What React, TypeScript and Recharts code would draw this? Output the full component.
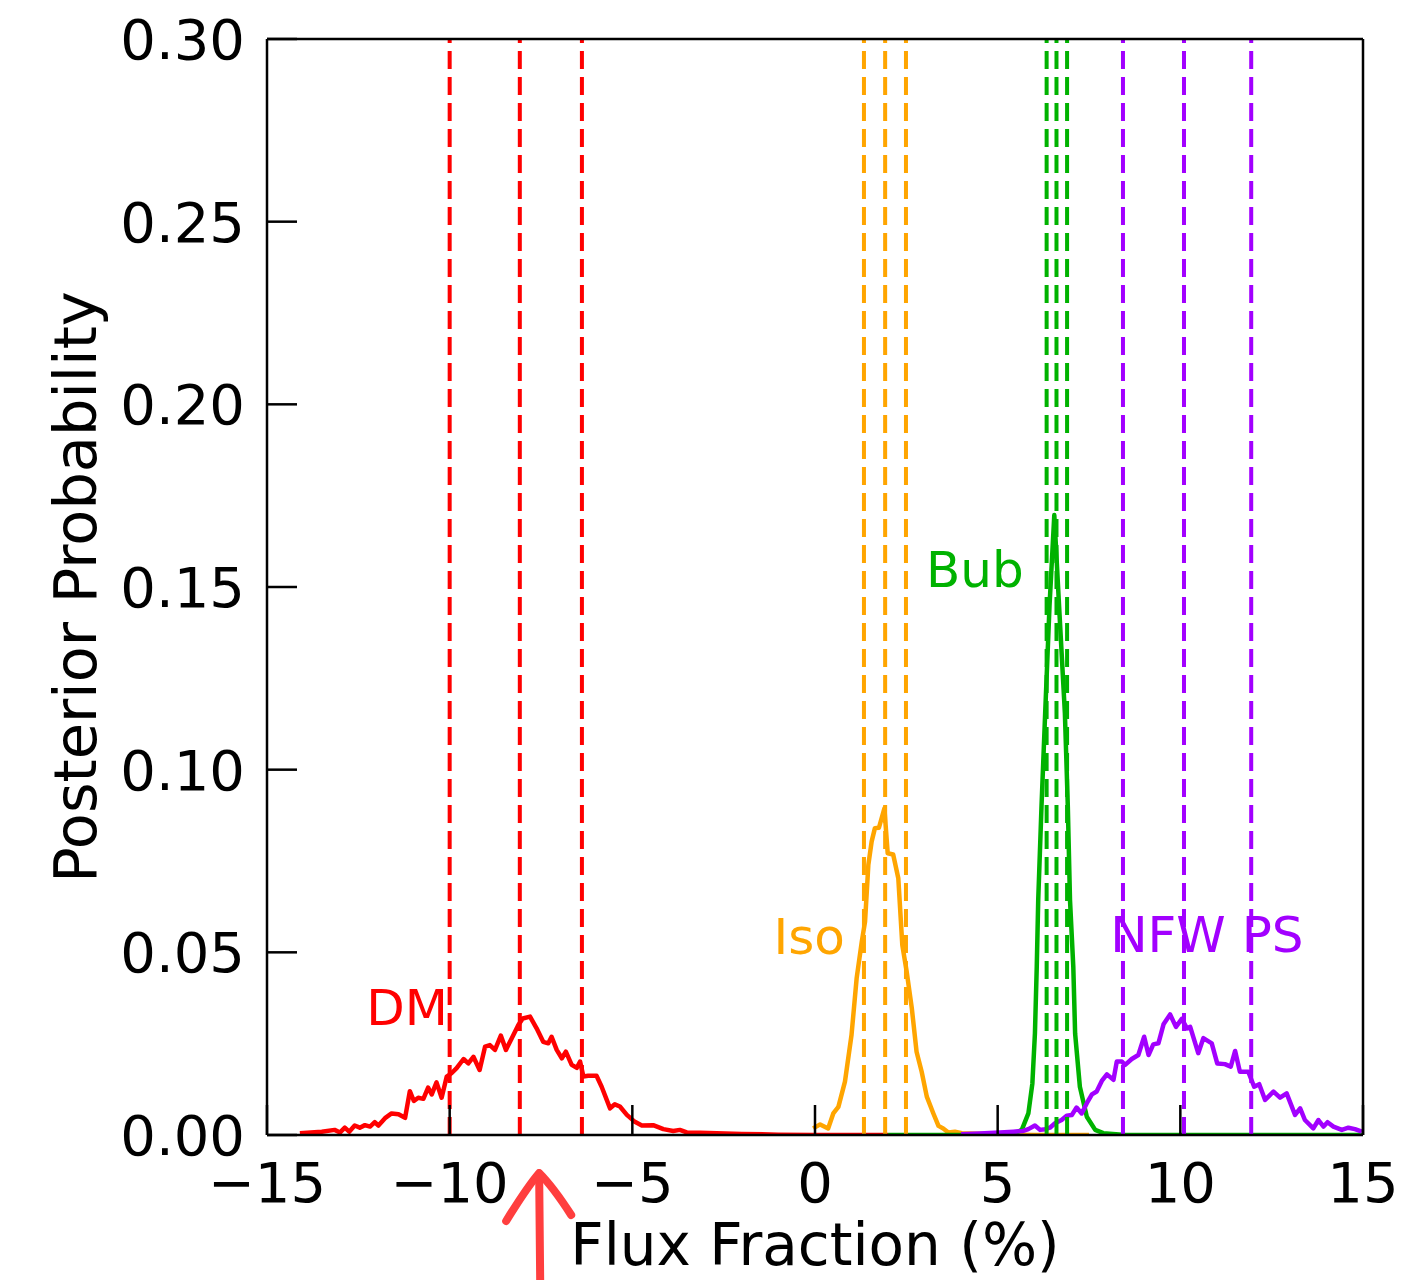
// Posterior probability of each template's flux fraction.
// Solid curves are the histograms; dashed lines mark the 16/50/84% quantiles.

import { LineChart, Line, XAxis, YAxis, ReferenceLine, ReferenceDot, Label } from 'recharts'

const FONT = 'DejaVu Sans'

const xTicks = [-15, -10, -5, 0, 5, 10, 15]
const yTicks = [0, 0.05, 0.1, 0.15, 0.2, 0.25, 0.3]

// DM
const dmFlux = [
  -14.1, -13.5, -13.15, -13.0, -12.87, -12.75, -12.6, -12.46, -12.32, -12.18, -12.05, -11.95,
  -11.77, -11.59, -11.4, -11.22, -11.09, -10.98, -10.86, -10.72, -10.59, -10.49, -10.36, -10.22,
  -10.08, -9.95, -9.81, -9.62, -9.49, -9.35, -9.18, -9.03, -8.9, -8.76, -8.6, -8.46, -8.3, -8.12,
  -8.0, -7.8, -7.62, -7.44, -7.3, -7.21, -7.07, -6.93, -6.82, -6.66, -6.52, -6.43, -6.34, -6.21,
  -5.98, -5.84, -5.61, -5.48, -5.34, -5.15, -4.93, -4.74, -4.43, -4.15, -3.88, -3.7, -3.51,
  -3.15, -2.69, -2.0, -1.0, 0, 1, 2,
]
const dmProb = [
  0.0005, 0.0009, 0.0014, 0.0007, 0.002, 0.0009, 0.0026, 0.002, 0.0027, 0.0023, 0.0035, 0.0026,
  0.0046, 0.0059, 0.0057, 0.0047, 0.012, 0.0093, 0.0102, 0.0099, 0.013, 0.0111, 0.0144, 0.0102,
  0.016, 0.0169, 0.0183, 0.0208, 0.0196, 0.0214, 0.0178, 0.0242, 0.0246, 0.0233, 0.0272, 0.0233,
  0.0265, 0.0301, 0.0319, 0.0324, 0.0292, 0.0255, 0.0251, 0.0269, 0.0233, 0.021, 0.0228, 0.0192,
  0.0184, 0.0201, 0.016, 0.0162, 0.0162, 0.0132, 0.0073, 0.0084, 0.0078, 0.0055, 0.0036, 0.0026,
  0.0027, 0.0016, 0.0011, 0.0014, 0.0007, 0.0006, 0.0005, 0.0003, 0.0001, 0, 0, 0,
]
const dmQuantiles = [-10.0, -8.08, -6.38]

// Iso
const isoFlux = [
  -0.05, 0.14, 0.36, 0.5, 0.64, 0.82, 1.0, 1.14, 1.28, 1.37, 1.46, 1.55, 1.64, 1.75, 1.9, 1.99,
  2.14, 2.28, 2.39, 2.51, 2.65, 2.78, 2.92, 3.06, 3.24, 3.38, 3.51, 3.65, 3.83, 4.02, 5.0, 6.0, 7.5,
]
const isoProb = [
  0.0018, 0.0029, 0.0018, 0.0059, 0.0077, 0.0146, 0.0274, 0.0429, 0.0529, 0.0584, 0.0739, 0.0803,
  0.084, 0.0841, 0.0894, 0.0771, 0.0768, 0.0703, 0.052, 0.0447, 0.0347, 0.0228, 0.0173, 0.0105,
  0.0059, 0.0025, 0.0018, 0.0007, 0.0009, 0.0005, 0.0002, 0, 0,
]
const isoQuantiles = [1.34, 1.92, 2.49]

// Bub
const bubFlux = [
  2, 3, 4, 5, 5.47, 5.66, 5.84, 5.95, 6.02, 6.07, 6.11, 6.2, 6.3, 6.42, 6.55, 6.68, 6.84, 6.92,
  6.98, 7.07, 7.12, 7.25, 7.44, 7.67, 7.89, 8.5, 10, 12, 15,
]
const bubProb = [
  0, 0, 0, 0.0001, 0.0005, 0.0014, 0.0059, 0.0141, 0.0278, 0.0461, 0.0643, 0.09, 0.1154, 0.145,
  0.1697, 0.145, 0.1154, 0.09, 0.0643, 0.0461, 0.0278, 0.0132, 0.005, 0.0014, 0.0005, 0, 0, 0, 0,
]
const bubQuantiles = [6.34, 6.61, 6.9]

// NFW PS
const nfwFlux = [
  4.0, 4.5, 5.06, 5.43, 5.7, 5.84, 6.02, 6.16, 6.3, 6.43, 6.57, 6.75, 6.89, 7.03, 7.16, 7.3,
  7.44, 7.58, 7.71, 7.85, 7.99, 8.17, 8.26, 8.4, 8.49, 8.67, 8.85, 9.01, 9.13, 9.26, 9.4, 9.54,
  9.72, 9.88, 10.04, 10.18, 10.27, 10.49, 10.63, 10.86, 11.01, 11.22, 11.38, 11.5, 11.63, 11.86,
  12.02, 12.16, 12.32, 12.55, 12.73, 12.91, 13.14, 13.28, 13.41, 13.64, 13.78, 13.92, 14.03,
  14.19, 14.42, 14.6, 14.78, 14.97,
]
const nfwProb = [
  0.0002, 0.0004, 0.0007, 0.0009, 0.0011, 0.0016, 0.0026, 0.0014, 0.0016, 0.002, 0.0032, 0.0041,
  0.0053, 0.0055, 0.0075, 0.0059, 0.0087, 0.0111, 0.0119, 0.0148, 0.0166, 0.0151, 0.0201, 0.0201,
  0.0192, 0.0208, 0.0219, 0.0269, 0.0219, 0.0248, 0.0251, 0.0303, 0.033, 0.0296, 0.0318, 0.0292,
  0.0296, 0.0224, 0.0265, 0.0251, 0.0196, 0.0194, 0.0187, 0.023, 0.0173, 0.0173, 0.0132, 0.0139,
  0.0096, 0.0119, 0.0102, 0.0114, 0.0055, 0.0073, 0.0041, 0.0018, 0.0041, 0.0023, 0.0035, 0.0023,
  0.0014, 0.002, 0.0016, 0.0009,
]
const nfwQuantiles = [8.43, 10.1, 11.94]

const RED = '#ff0000'
const ORANGE = '#ffa500'
const GREEN = '#00b200'
const PURPLE = '#a200ff'

const toPoints = (xs: number[], ys: number[]) => xs.map((x, i) => ({ x, y: ys[i] }))

const series = [
  { name: 'DM', color: RED, data: toPoints(dmFlux, dmProb), q: dmQuantiles },
  { name: 'Iso', color: ORANGE, data: toPoints(isoFlux, isoProb), q: isoQuantiles },
  { name: 'Bub', color: GREEN, data: toPoints(bubFlux, bubProb), q: bubQuantiles },
  { name: 'NFW PS', color: PURPLE, data: toPoints(nfwFlux, nfwProb), q: nfwQuantiles },
]

// where each name sits, in data coordinates
const tags = [
  { text: 'DM', color: RED, x: -10.05, y: 0.0348, anchor: 'end' },
  { text: 'Iso', color: ORANGE, x: 0.82, y: 0.0542, anchor: 'end' },
  { text: 'Bub', color: GREEN, x: 3.04, y: 0.1547, anchor: 'start' },
  { text: 'NFW PS', color: PURPLE, x: 8.08, y: 0.0547, anchor: 'start' },
]

const fmtX = (v: number) => (v < 0 ? '\u2212' + Math.abs(v) : String(v))
const fmtY = (v: number) => v.toFixed(2)

const tickStyle = { fontSize: 56, fill: '#000', fontFamily: FONT }
const frame = { stroke: '#000', strokeWidth: 2.5 }

function TagText(props: any) {
  const { cx, cy, payload } = props
  return (
    <text
      x={cx}
      y={cy}
      fill={payload.color}
      fontSize={50}
      fontFamily={FONT}
      textAnchor={payload.anchor}
      dominantBaseline="central"
    >
      {payload.text}
    </text>
  )
}

// hand-drawn red arrow under the x axis
function Arrow(props: any) {
  const { cx, cy } = props
  return (
    <g stroke="#ff2a2a" strokeWidth={8} fill="none" strokeLinecap="round" strokeLinejoin="round" opacity={0.9}>
      <path d={`M${cx},${cy + 42} L${cx + 1},${cy + 145}`} />
      <path d={`M${cx - 33},${cy + 86} Q${cx - 12},${cy + 52} ${cx},${cy + 38} Q${cx + 14},${cy + 52} ${cx + 32},${cy + 80}`} />
    </g>
  )
}

export default function App() {
  return (
    <div style={{ position: 'absolute', left: 0, top: 0, background: '#fff' }}>
      <LineChart width={1415} height={1280} margin={{ top: 0, right: 0, bottom: 0, left: 0 }}>
        <XAxis
          dataKey="x"
          type="number"
          domain={[-15, 15]}
          ticks={xTicks}
          interval={0}
          allowDataOverflow
          height={145}
          tickFormatter={fmtX}
          tick={tickStyle}
          tickSize={-30}
          tickMargin={57}
          axisLine={frame}
          tickLine={frame}
        >
          <Label
            content={(p: any) => {
              const vb = p.viewBox
              return (
                <text x={vb.x + vb.width / 2} y={vb.y + 130} textAnchor="middle" fontSize={58} fontFamily={FONT} fill="#000">
                  Flux Fraction (%)
                </text>
              )
            }}
          />
        </XAxis>
        <XAxis
          xAxisId="top"
          orientation="top"
          type="number"
          domain={[-15, 15]}
          ticks={xTicks}
          interval={0}
          allowDataOverflow
          height={39}
          tick={false}
          tickSize={-30}
          axisLine={frame}
          tickLine={frame}
        />
        <YAxis
          type="number"
          domain={[0, 0.3]}
          ticks={yTicks}
          interval={0}
          allowDataOverflow
          width={267}
          tickFormatter={fmtY}
          tick={tickStyle}
          tickSize={-30}
          tickMargin={52}
          axisLine={frame}
          tickLine={frame}
        >
          <Label
            content={(p: any) => {
              const vb = p.viewBox
              const cx = 75
              const cy = vb.y + vb.height / 2
              return (
                <text
                  x={cx}
                  y={cy}
                  transform={`rotate(-90 ${cx} ${cy})`}
                  textAnchor="middle"
                  dominantBaseline="central"
                  fontSize={59}
                  fontFamily={FONT}
                  fill="#000"
                >
                  Posterior Probability
                </text>
              )
            }}
          />
        </YAxis>
        <YAxis
          yAxisId="right"
          orientation="right"
          type="number"
          domain={[0, 0.3]}
          ticks={yTicks}
          interval={0}
          allowDataOverflow
          width={52}
          tick={false}
          tickSize={-30}
          axisLine={frame}
          tickLine={frame}
        />

        {series.map((s) => (
          <Line
            key={s.name}
            data={s.data}
            dataKey="y"
            type="linear"
            stroke={s.color}
            strokeWidth={4.5}
            strokeLinejoin="round"
            dot={false}
            activeDot={false}
            isAnimationActive={false}
          />
        ))}

        {series.map((s) =>
          s.q.map((q) => (
            <ReferenceLine key={s.name + q} x={q} stroke={s.color} strokeWidth={4} strokeDasharray="18 8" />
          ))
        )}

        {tags.map((t) => (
          <ReferenceDot key={t.text} x={t.x} y={t.y} r={0} ifOverflow="visible" shape={(p: any) => <TagText {...p} payload={t} />} />
        ))}

        <ReferenceDot x={-7.55} y={0} r={0} ifOverflow="visible" shape={(p: any) => <Arrow {...p} />} />
      </LineChart>
    </div>
  )
}
